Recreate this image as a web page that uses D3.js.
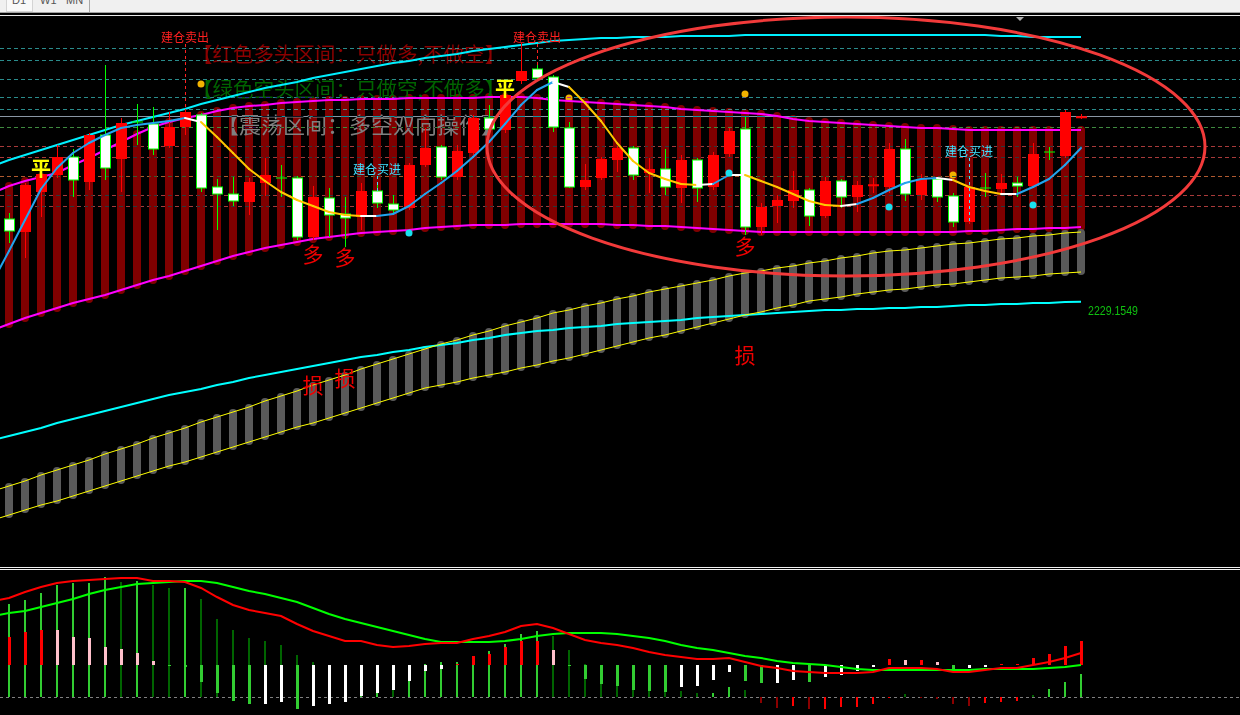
<!DOCTYPE html>
<html><head><meta charset="utf-8">
<script src="https://cdn.jsdelivr.net/npm/d3@7"></script>
<style>
html,body{margin:0;padding:0;background:#000;overflow:hidden;}
svg{display:block;}
</style></head><body>
<svg id="chart" width="1240" height="715"></svg>
<script>
// ================= DATA =================
const bars = d3.range(69);               // bar index (bar 0 sits just off the left edge)
const periods = ['D1','W1','MN'];

const open  = [2300,2312,2299,2339,2356,2374,2349,2396,2372,2409, 2407,2385,2404,2416,2344,2337,2329,2348,2353,2353, 2294,2333,2317,2314,2340,2327,2323,2366,2384,2354, 2378,2413,2401,2450,2462,2454,2403,2344,2353,2371, 2383,2358,2362,2343,2371,2344,2377,2402,2304,2325, 2330,2341,2315,2350,2334,2345.5,2344,2382,2336,2352, 2335,2309,2343,2342,2348,2345,2379,2375,2413.5];
const close = [2290,2300,2346,2357,2374,2351,2396,2363,2408,2409, 2382,2404,2419,2343,2337,2330,2349,2356,2353,2294, 2334,2316,2313,2340,2328,2321,2366,2383,2354,2380, 2413,2402,2436,2460,2453,2404,2344,2351,2372,2383, 2356,2362,2344,2371,2343,2376,2400,2304,2324,2331, 2341,2315,2350,2334,2346,2346,2382,2337,2352,2334, 2309,2344,2343,2348,2345,2377,2379,2419,2414];
const high  = [2305,2318,2348,2371,2386,2382,2398,2466,2413,2427, 2424,2419,2422,2418,2352,2354,2353,2373,2366,2355, 2345,2343,2334,2348,2347,2336,2368,2403,2386,2386, 2416,2426,2443,2488,2466,2456,2409,2367,2374,2385, 2385,2373,2382,2376,2373,2379,2403,2414,2328,2336, 2360,2343,2354,2352,2350,2353,2388,2392,2357,2354, 2338,2346,2358,2357,2354,2388,2384,2421,2417];
const low   = [2285,2288,2273,2314,2353,2334,2341,2351,2339,2386, 2376,2383,2396,2339,2301,2325,2316,2335,2334,2291, 2291,2294,2284,2301,2323,2318,2321,2364,2351,2351, 2376,2399,2398,2447,2451,2399,2343,2341,2351,2359, 2351,2338,2336,2328,2329,2341,2374,2296,2296,2308, 2323,2305,2313,2323,2319,2338,2338,2330,2331,2329, 2304,2307,2334,2336,2334,2343,2371,2373,2412];

const maLine = [2250,2280,2311,2342,2363,2378,2388,2396,2403,2406, 2408,2410,2413,2409,2394,2378,2362,2350,2339,2331, 2325,2319,2316,2315,2315,2317,2325,2337,2348,2360, 2374,2389,2407,2426,2441,2449,2444,2428,2410,2388, 2370,2358,2352,2347,2346,2347,2356,2356,2350,2344, 2337,2330,2326,2325,2327,2333,2341,2348,2352,2353, 2351,2344,2340,2337,2337,2344,2352,2366,2383];
// u = rising, d = falling, f = flat (state of the segment ending at each bar)
const maTrend = ("uuuuuuuuuuuuu"+"f"+"dddddddddd"+"f"+"uuuuuuuuuuu"+"f"+"dddddddd"+"f"+"u"+"f"+"dddddd"+"f"+"uuuuu"+"f"+"ddd"+"f"+"uuuu").split('');

const bandUpper = [2338,2345,2350,2354,2358,2366,2373,2381,2389,2397, 2404,2409,2413,2416,2420,2423,2425,2426,2428,2429, 2430,2431,2431,2432,2432,2432,2433,2433,2433,2433, 2433,2434,2434,2434,2433,2431,2430,2429,2428,2427, 2426,2425,2424,2422,2421,2420,2419,2418,2417,2415, 2412,2410,2409,2408,2407,2406,2405,2404,2403,2403, 2402,2401,2401,2401,2401,2401,2401,2401,2401];
const bandLower = [2201,2207,2213,2218,2223,2228,2232,2236,2241,2246, 2251,2255,2260,2265,2270,2275,2279,2283,2286,2289, 2292,2294,2296,2298,2299,2300,2301,2303,2304,2305, 2306,2306,2306,2307,2307,2307,2307,2307,2307,2306, 2306,2305,2305,2304,2303,2302,2301,2300,2299,2299, 2299,2299,2299,2299,2299,2299,2299,2299,2299,2299, 2299,2300,2300,2301,2302,2302,2303,2303,2304];
const cyanUpper = [2365,2371,2376,2381,2386,2391,2396,2401,2406,2410, 2414,2418,2422,2427,2431,2435,2439,2443,2446,2449, 2453,2456,2459,2462,2465,2468,2470,2473,2475,2477, 2480,2482,2484,2486,2488,2490,2491,2492,2493,2493, 2494,2494,2494,2495,2495,2495,2495,2496,2496,2496, 2496,2496,2496,2496,2496,2496,2496,2496,2496,2496, 2496,2496,2496,2495,2495,2494,2494,2494,2494];
const cyanLower = [2091,2095,2099,2103,2108,2112,2116,2120,2124,2128, 2132,2136,2139,2142,2146,2149,2153,2156,2159,2162, 2165,2168,2171,2174,2176,2179,2181,2184,2186,2188, 2191,2193,2196,2198,2200,2201,2203,2204,2205,2207, 2208,2209,2210,2211,2213,2214,2215,2216,2217,2218, 2219,2220,2221,2221,2222,2222,2223,2223,2224,2224, 2225,2226,2226,2227,2227,2228,2228,2229,2229.1549];
const grayUpper = [2040,2045,2050,2056,2061,2066,2071,2077,2082,2087, 2093,2098,2103,2109,2114,2119,2124,2130,2135,2140, 2146,2151,2156,2162,2167,2172,2177,2182,2187,2191, 2196,2200,2205,2209,2213,2218,2221,2225,2228,2232, 2235,2239,2242,2245,2248,2251,2255,2258,2260,2263, 2265,2268,2270,2273,2275,2278,2280,2281,2283,2285, 2287,2288,2290,2292,2293,2295,2296,2298,2299];
const grayLower = [2011,2016,2021,2026,2030,2035,2040,2045,2050,2055, 2060,2065,2069,2074,2079,2084,2089,2094,2099,2104, 2108,2113,2118,2123,2128,2133,2138,2143,2146,2149, 2153,2156,2159,2163,2166,2170,2173,2177,2181,2185, 2189,2193,2196,2200,2204,2208,2212,2216,2219,2223, 2226,2230,2232,2234,2237,2239,2241,2242,2244,2246, 2247,2249,2251,2253,2254,2255,2257,2258,2259];

const levelPrices = [2483,2471,2452,2434,2422,2415,2404,2385,2374,2355,2336,2325];
const levelKinds  = ['t','t','t','t','t','s','g','r','r','o','r','r'];

const zoneNotes = ['【红色多头区间：只做多,不做空】','【绿色空头区间：只做空,不做多】','【震荡区间：多空双向操作】'];

const sellBars = [12, 34];     const sellLabelPrice = [2489, 2489];
const buyBars  = [24, 61];     const buyLabelPrice  = [2357, 2375];
const flatBars = [3, 32];      const flatPrice      = [2364, 2444];
const longBars = [20, 22, 47]; const longPrice      = [2278, 2275, 2286];
const stopPrice = [2147, 2154, 2177];
const orangeDotBars = [13, 36, 47, 60]; const orangeDotPrice = [2447, 2433, 2437, 2356];
const cyanDotBars   = [26, 46, 56, 65]; const cyanDotPrice   = [2298, 2358, 2324, 2326];
// hand-drawn ellipse: bar span and price span
const ellipseBars = [30.875, 75.75];
const ellipsePrices = [2255, 2514];

const macdRed   = [32,33.5,36.5,39,41,42,42.5,43,43.5,43.5, 42,42,41.5,38.5,34,30,27.5,26,24.5,20.5, 17,14.5,12,12,10,9,9.5,10.5,11,11, 13,14.5,16.5,19.5,20.5,18.5,15.5,12.5,11,10, 8.5,6.5,5,4,3,3,3.5,1.5,-0.5,-1.5, -3,-3.5,-4,-4,-4,-3.5,-1.5,-1.5,-1.5,-2, -3.5,-3.5,-2.5,-1.5,-1.5,0,1.5,3.5,6];
const macdGreen = [24.5,26,27,29,31,33,35.5,37.5,39,40.5, 41,41.5,42,42,41,39,37,35.5,33.5,31.5, 28.5,25.5,23,21,19,17,15,13,11.5,11.5, 11.5,11.5,12,13,14.5,15.5,16,16,16,15.5, 14.5,13.5,12,10,8.5,7.5,6,4.5,3.5,2, 1,0.5,0,-1,-2,-2.5,-2.5,-2.5,-2.5,-2.5, -2.5,-2.5,-2,-2,-2,-2,-1.5,-1,0];
const macdHist  = [16.5,14,16.5,17.5,17.5,14,13.5,9,8,6, 2,-0.5,-1,-8.5,-14,-18,-19.5,-19.5,-18.5,-22, -20.5,-19.5,-18.5,-15.5,-14,-12.5,-8,-3,-2,0.5, 4.5,5.5,9,12,12,7.5,-0.5,-7,-9.5,-10.5, -12.5,-13,-13.5,-11,-10.5,-7.5,-3.5,-8,-9,-9, -7.5,-8.5,-6,-5,-3,-1,3,2.5,2.5,1.5, -2.5,-1.5,-1,0.5,0.5,3.5,5.5,9.5,12];
const histState = ("RRRR"+"PPPPPPP"+"GGGGGG"+"WW"+"G"+"WWWWWWWWW"+"RRRRRR"+"P"+"GGGGGGG"+"WWWW"+"GG"+"WW"+"G"+"WWWW"+"RPRP"+"G"+"WW"+"RRRRRR").split('');
const volBars   = [45.5,46.5,48.5,52,56,57,57,60,57.5,58, 56,54.5,54.5,49,39,33.5,29.5,28,26,21, 17.5,13.5,11,8.5,2,3.5,8,16.5,17.5,17.5, 18.5,23,26.5,31.5,33,30.5,23.5,16.5,7,5.5, 3.5,3,2.5,3,2,2,5,3.5,-3,-5.5, -4.5,-6,-6,-5,-5,-3.5,-0.5,1.5,-0.5,-1, -3.5,-4.5,-3,-2.5,-2,1,4,7.5,11.5];
const volState  = ("LLLLLLLL"+"D"+"L"+"DD"+"L"+"DDDDDDDDDD"+"LL"+"D"+"LLLLLLLLL"+"DDDDDDDDDD"+"LL"+"D"+"KK"+"R"+"K"+"RRRRR"+"D"+"KKKK"+"RRR"+"D"+"LLL").split('');

// ================= DRAW =================
const svg = d3.select('#chart');
const CJK = "'Noto Sans CJK SC','Noto Sans CJK JP',sans-serif";
const x = d3.scaleLinear().domain([0, 68]).range([-7, 1081]);
const y = d3.scaleLinear().domain([1966, 2516]).range([565, 15]);
const yM = d3.scaleLinear().domain([0, 50]).range([665, 565]);
const yV = d3.scaleLinear().domain([0, 50]).range([697, 597]);

svg.append('rect').attr('width',1240).attr('height',715).attr('fill','#000');

// header strip
const hdr = svg.append('g');
hdr.append('rect').attr('x',0).attr('y',0).attr('width',1240).attr('height',12.5).attr('fill','#f0f0f0');
hdr.append('rect').attr('x',6.5).attr('y',-1).attr('width',26).attr('height',12.5).attr('fill','#f9f9f9').attr('stroke','#d4d4d4');
hdr.append('line').attr('x1',89.5).attr('x2',89.5).attr('y1',0).attr('y2',12.5).attr('stroke','#a8a8a8');
hdr.selectAll('text.tab').data(periods).enter().append('text')
  .attr('x',(d,i)=>[12,40,66][i]).attr('y',4)
  .attr('font-family','Liberation Sans, Arial, sans-serif').attr('font-size',11).attr('fill','#555')
  .text(d=>d);
hdr.append('line').attr('x1',0).attr('x2',1240).attr('y1',12.5).attr('y2',12.5).attr('stroke','#a0a0a0');
hdr.append('line').attr('x1',0).attr('x2',1240).attr('y1',15.5).attr('y2',15.5).attr('stroke','#e8e8e8');
hdr.append('path').attr('d','M1016,17 L1024,17 L1020,21 Z').attr('fill','#b0b0b0');

// main panel
const defs = svg.append('defs');
defs.append('clipPath').attr('id','mainClip').append('rect').attr('x',0).attr('y',16).attr('width',1240).attr('height',550);
defs.append('clipPath').attr('id','subClip').append('rect').attr('x',0).attr('y',571).attr('width',1240).attr('height',144);
const main = svg.append('g').attr('clip-path','url(#mainClip)');

// dark red channel bars
main.append('g').selectAll('rect').data(bars).enter().append('rect')
  .attr('x',k=>x(k)-4).attr('width',8)
  .attr('y',k=>y(bandUpper[k])-4).attr('height',k=>y(bandLower[k])-y(bandUpper[k])+8)
  .attr('rx',4).attr('fill','#800000');
// gray channel bars
main.append('g').selectAll('rect').data(bars).enter().append('rect')
  .attr('x',k=>x(k)-4).attr('width',8)
  .attr('y',k=>y(grayUpper[k])-3).attr('height',k=>y(grayLower[k])-y(grayUpper[k])+6)
  .attr('rx',4).attr('fill','#5a5a5a');

// dots
main.append('g').selectAll('circle').data(orangeDotBars).enter().append('circle')
  .attr('cx',k=>x(k)).attr('cy',(k,i)=>y(orangeDotPrice[i])).attr('r',3.5).attr('fill','#f2b300');

// zone notes
const noteStyle = [{x:192,y:61.5,c:'#8b0000',s:20.5},{x:192,y:96.5,c:'#006400',s:20.5},{x:217,y:133,c:'#808080',s:22}];
main.append('g').selectAll('text').data(zoneNotes).enter().append('text')
  .attr('x',(d,i)=>noteStyle[i].x).attr('y',(d,i)=>noteStyle[i].y)
  .attr('fill',(d,i)=>noteStyle[i].c).attr('font-size',(d,i)=>noteStyle[i].s)
  .attr('font-family',CJK).text(d=>d);

// horizontal levels
const levelColor = {t:'#2a8c8c', s:'#8a96a4', g:'#3f8a3f', r:'#a83a3a', o:'#b05a30'};
main.append('g').selectAll('line').data(levelPrices).enter().append('line')
  .attr('x1',0).attr('x2',1240)
  .attr('y1',d=>Math.round(y(d))+0.5).attr('y2',d=>Math.round(y(d))+0.5)
  .attr('stroke',(d,i)=>levelColor[levelKinds[i]])
  .attr('stroke-dasharray',(d,i)=>levelKinds[i]==='s'?null:'4,3')
  .style('mix-blend-mode','difference');

// band lines
const lineOf = arr => d3.line().x((d,i)=>x(i)).y(d=>y(d))(arr);
[[bandUpper,'#ff00ff',2],[bandLower,'#ff00ff',2],[cyanUpper,'#00f0ff',2],[cyanLower,'#00ffff',2],[grayUpper,'#ffff00',1],[grayLower,'#ffff00',1]]
  .forEach(([arr,c,w])=>main.append('path').attr('d',lineOf(arr)).attr('fill','none').attr('stroke',c).attr('stroke-width',w));

// candles
const cg = main.append('g');
bars.forEach(k=>{
  const up = close[k] > open[k];
  const cx = x(k);
  cg.append('line').attr('x1',cx+0.5).attr('x2',cx+0.5).attr('y1',y(high[k])).attr('y2',y(low[k]))
    .attr('stroke', up ? '#ff0000' : '#00ff00').attr('stroke-width',1);
  const top = y(Math.max(open[k],close[k])), bot = y(Math.min(open[k],close[k]));
  if (up) {
    const h = Math.max(2, bot-top);
    cg.append('rect').attr('x',cx-5).attr('width',11).attr('y',(top+bot)/2-h/2).attr('height',h).attr('fill','#ff0000');
  } else {
    cg.append('rect').attr('x',cx-4.5).attr('width',10).attr('y',top).attr('height',Math.max(0.01,bot-top))
      .attr('fill','#ffffff').attr('stroke','#00ff00').attr('stroke-width',1);
  }
});

// trend line (colored by state)
const maColor = {u:'#22a4ee', d:'#ffc800', f:'#ffffff'};
bars.slice(1).forEach(k=>{
  main.append('path').attr('d',d3.line()([[x(k-1),y(maLine[k-1])],[x(k),y(maLine[k])]]))
    .attr('stroke',maColor[maTrend[k]]).attr('stroke-width',2).attr('stroke-linecap','round').attr('fill','none');
});

main.append('g').selectAll('circle').data(cyanDotBars).enter().append('circle')
  .attr('cx',k=>x(k)).attr('cy',(k,i)=>y(cyanDotPrice[i])).attr('r',3.5).attr('fill','#18e0f0');

// signals
sellBars.forEach((k,i)=>{
  main.append('line').attr('x1',x(k)+0.5).attr('x2',x(k)+0.5).attr('y1',y(sellLabelPrice[i])+2).attr('y2',y(high[k]))
    .attr('stroke','#ff2020').attr('stroke-dasharray','3,3');
  main.append('text').attr('x',x(k)).attr('y',y(sellLabelPrice[i])).attr('text-anchor','middle')
    .attr('font-family',CJK).attr('font-size',12).attr('fill','#ff2020').text('建仓卖出');
});
buyBars.forEach((k,i)=>{
  main.append('line').attr('x1',x(k)+0.5).attr('x2',x(k)+0.5).attr('y1',y(buyLabelPrice[i])+2).attr('y2',y(open[k]))
    .attr('stroke','#40e0ff').attr('stroke-dasharray','3,3');
  main.append('text').attr('x',x(k)).attr('y',y(buyLabelPrice[i])).attr('text-anchor','middle')
    .attr('font-family',CJK).attr('font-size',12).attr('fill','#40e0ff').text('建仓买进');
});
flatBars.forEach((k,i)=>{
  main.append('text').attr('x',x(k)).attr('y',y(flatPrice[i])).attr('text-anchor','middle').attr('dominant-baseline','central')
    .attr('font-family',CJK).attr('font-size',20).attr('font-weight','bold').attr('fill','#ffff00').text('平');
});
longBars.forEach((k,i)=>{
  main.append('text').attr('x',x(k)).attr('y',y(longPrice[i])).attr('text-anchor','middle').attr('dominant-baseline','central')
    .attr('font-family',CJK).attr('font-size',21).attr('fill','#ee0000').text('多');
  main.append('text').attr('x',x(k)).attr('y',y(stopPrice[i])).attr('text-anchor','middle').attr('dominant-baseline','central')
    .attr('font-family',CJK).attr('font-size',21).attr('fill','#ee0000').text('损');
});

// hand-drawn ellipse
const ex0 = x(ellipseBars[0]), ex1 = x(ellipseBars[1]);
const ey0 = y(ellipsePrices[1]), ey1 = y(ellipsePrices[0]);
main.append('ellipse').attr('cx',(ex0+ex1)/2).attr('cy',(ey0+ey1)/2).attr('rx',(ex1-ex0)/2).attr('ry',(ey1-ey0)/2)
  .attr('fill','none').attr('stroke','#f23a3a').attr('stroke-width',3);

// last value label
const fmt = d3.format('.4f');
main.append('text').attr('x',1088).attr('y',y(cyanLower[68])+13)
  .attr('font-family','Liberation Sans, Arial, sans-serif').attr('font-size',12).attr('fill','#10c010')
  .attr('textLength',50).attr('lengthAdjust','spacingAndGlyphs').text(fmt(cyanLower[68]));

// separator
svg.append('line').attr('x1',0).attr('x2',1240).attr('y1',567.5).attr('y2',567.5).attr('stroke','#f0f0f0');
svg.append('line').attr('x1',0).attr('x2',1240).attr('y1',569.5).attr('y2',569.5).attr('stroke','#f0f0f0');

// sub panel
const sub = svg.append('g').attr('clip-path','url(#subClip)');
sub.append('line').attr('x1',0).attr('x2',1240).attr('y1',yV(0)+0.5).attr('y2',yV(0)+0.5)
  .attr('stroke','#808080').attr('stroke-dasharray','3,3');
const volColor = {L:'#32cd32', D:'#006400', R:'#ff0000', K:'#8b0000'};
sub.append('g').selectAll('rect').data(bars).enter().append('rect')
  .attr('x',k=>x(k)-1).attr('width',2)
  .attr('y',k=>Math.min(yV(0),yV(volBars[k]))).attr('height',k=>Math.abs(yV(volBars[k])-yV(0)))
  .attr('fill',k=>volColor[volState[k]]);
const histColor = {R:'#ff0000', P:'#ffc0cb', G:'#32cd32', W:'#ffffff'};
sub.append('g').selectAll('rect').data(bars).enter().append('rect')
  .attr('x',k=>x(k)-1).attr('width',3)
  .attr('y',k=>Math.min(yM(0),yM(macdHist[k]))).attr('height',k=>Math.max(1,Math.abs(yM(macdHist[k])-yM(0))))
  .attr('fill',k=>histColor[histState[k]]);
const mline = d3.line().x((d,i)=>x(i)).y(d=>yM(d));
sub.append('path').attr('d',mline(macdGreen)).attr('fill','none').attr('stroke','#00ff00').attr('stroke-width',2);
sub.append('path').attr('d',mline(macdRed)).attr('fill','none').attr('stroke','#ff0000').attr('stroke-width',2);
</script>
</body></html>
